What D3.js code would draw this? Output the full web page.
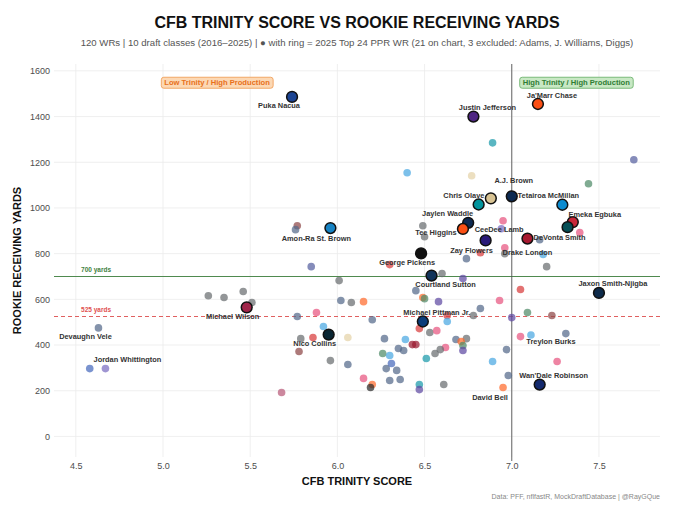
<!DOCTYPE html>
<html>
<head>
<meta charset="utf-8">
<script src="https://cdn.jsdelivr.net/npm/d3@7"></script>
<style>
  body { margin: 0; background: #fff; }
  svg { font-family: "Liberation Sans", Arial, sans-serif; display: block; }
</style>
</head>
<body>
<svg id="main" width="680" height="510"></svg>
<script>
// ---- data ----
// 2025 top-24 PPR WRs on the chart (drawn with a ring)
const ringNames = ['Puka Nacua', "Ja'Marr Chase", 'Justin Jefferson', 'A.J. Brown', 'Chris Olave',
    'Jaylen Waddle', 'Tetairoa McMillan', 'Emeka Egbuka', 'DeVonta Smith', 'CeeDee Lamb',
    'Tee Higgins', 'Zay Flowers', 'Drake London', 'Amon-Ra St. Brown', 'George Pickens',
    'Courtland Sutton', 'Jaxon Smith-Njigba', 'Michael Pittman Jr.', 'Michael Wilson',
    'Nico Collins', "Wan'Dale Robinson"];
const ringTeams = ['LAR', 'CIN', 'MIN', 'TEN', 'NO', 'MIA', 'CAR', 'TB', 'PHI', 'DAL',
    'CIN', 'BAL', 'ATL', 'DET', 'PIT', 'DEN', 'SEA', 'IND', 'ARI', 'HOU', 'NYG'];
const ringScore = [5.74, 7.15, 6.78, 7.00, 6.88, 6.81, 7.29, 7.35, 7.32, 6.75,
    6.72, 6.85, 7.09, 5.96, 6.48, 6.54, 7.50, 6.49, 5.48, 5.95, 7.16];
const ringYards = [1486, 1455, 1400, 1051, 1042, 1015, 1014, 938, 916, 935,
    908, 858, 866, 912, 801, 704, 628, 503, 565, 446, 227];

// other labelled WRs (no ring)
const notedNames = ['Devaughn Vele', 'Jordan Whittington', 'Treylon Burks', 'David Bell'];
const notedScore = [4.63, 4.67, 7.11, 6.95];
const notedYards = [475, 297, 444, 214];
const notedShade = ['slate', 'lavender', 'lightblue', 'orange'];

// everyone else
const otherScore = [6.40, 6.77, 6.89, 7.70, 7.44, 7.39, 7.16, 7.18, 7.20, 6.49,
    6.50, 6.95, 6.94, 6.96, 6.96, 6.82, 6.74, 6.30, 6.60, 6.72,
    6.45, 6.49, 6.50, 6.58, 6.93, 7.05, 6.82, 6.78, 6.63, 6.63,
    7.00, 7.09, 7.23, 7.31, 7.05, 6.47, 6.53, 6.57, 6.27, 6.39,
    6.68, 6.74, 6.71, 6.72, 6.72, 6.43, 6.45, 6.35, 6.38, 6.62,
    6.59, 6.56, 6.97, 6.51, 6.26, 6.30, 6.89, 6.31, 6.28, 6.34,
    6.30, 6.36, 6.98, 7.26, 6.47, 6.47, 6.61, 6.20, 6.20, 6.19,
    6.15, 5.85, 6.01, 5.46, 5.51, 6.02, 6.08, 6.15, 5.88, 5.77,
    5.92, 5.79, 5.86, 6.06, 5.78, 5.96, 6.06, 5.68, 5.26, 5.35,
    5.77, 5.76, 4.58];
const otherYards = [1154, 1141, 1285, 1211, 1106, 892, 861, 796, 743, 922,
    874, 944, 909, 826, 800, 804, 778, 752, 713, 691,
    638, 608, 603, 590, 595, 643, 560, 529, 529, 503,
    520, 542, 529, 450, 437, 472, 455, 463, 428, 424,
    424, 428, 415, 398, 376, 402, 402, 385, 376, 389,
    380, 363, 380, 341, 363, 354, 328, 319, 297, 289,
    245, 249, 267, 328, 227, 205, 227, 511, 227, 214,
    254, 743, 682, 634, 586, 595, 586, 590, 542, 525,
    481, 428, 433, 433, 372, 332, 315, 192, 616, 608,
    922, 905, 297];
const otherShade = ['lightblue', 'tan', 'teal', 'indigo', 'green', 'pink', 'slate', 'lightblue', 'gray', 'gray',
    'gray', 'pink', 'lavender', 'pink', 'gray', 'red', 'slate', 'red', 'gray', 'purple',
    'slate', 'orange', 'green', 'purple', 'pink', 'red', 'slate', 'gray', 'red', 'lightblue',
    'purple', 'green', 'brown', 'slate', 'pink', 'red', 'gray', 'pink', 'slate', 'lightblue',
    'slate', 'gray', 'orange', 'green', 'purple', 'maroon', 'maroon', 'slate', 'slate', 'pink',
    'gray', 'gray', 'slate', 'teal', 'green', 'lightblue', 'lightblue', 'blue', 'slate', 'slate',
    'slate', 'slate', 'slate', 'pink', 'teal', 'purple', 'gray', 'slate', 'orange', 'dark',
    'pink', 'indigo', 'gray', 'gray', 'gray', 'slate', 'gray', 'orange', 'pink', 'slate',
    'lightblue', 'gray', 'red', 'tan', 'brown', 'gray', 'slate', 'mauve', 'gray', 'gray',
    'brown', 'slate', 'blue'];

const xTicks = [4.5, 5.0, 5.5, 6.0, 6.5, 7.0, 7.5];
const yTicks = [0, 200, 400, 600, 800, 1000, 1200, 1400, 1600];
const trinityCut = 7.0;
const refYards = [700, 525];
const refLabels = ['700 yards', '525 yards'];
const quadrantLabels = ['Low Trinity / High Production', 'High Trinity / High Production'];
const quadrantScore = [5.31, 7.37];
const quadrantYards = [1548, 1548];

// ---- styles ----
const teamColor = {
    LAR: '#1b4493', CIN: '#fb4f14', MIN: '#4f2683', TEN: '#0c2a52', NO: '#d8c393',
    MIA: '#00939c', CAR: '#0a8bd0', TB: '#c8283a', PHI: '#064f56', DAL: '#0e2a52',
    BAL: '#2b1a78', ATL: '#a71930', DET: '#1783c4', PIT: '#111111', DEN: '#12345a',
    SEA: '#0d2a4a', IND: '#0b3c7a', ARI: '#a0254a', HOU: '#0a2633', NYG: '#142a6e'
};
const shadeColor = {
    slate: '#55698a', gray: '#6a6d70', lightblue: '#4aa8e2', pink: '#e8557f',
    red: '#d83c3c', orange: '#ff6b2c', green: '#4f8a68', purple: '#5e4aa2',
    teal: '#1a9aaa', tan: '#e4d3a8', maroon: '#9a1a30', brown: '#8e4646',
    lavender: '#7a6cc0', dark: '#2c2c2c', blue: '#4669bd', indigo: '#5660a0',
    mauve: '#b85a78'
};
// label offsets (px) from each point, as placed in the reference
const labelNudge = {
    'Puka Nacua': [-13, 9], "Ja'Marr Chase": [14, -8], 'Justin Jefferson': [14, -9],
    'A.J. Brown': [2, -16], 'Chris Olave': [-27, -3], 'Jaylen Waddle': [-31, 9],
    'Tetairoa McMillan': [-14, -9], 'Emeka Egbuka': [22, -8], 'DeVonta Smith': [-8, 10],
    'CeeDee Lamb': [31, 7], 'Tee Higgins': [-27, 4], 'Zay Flowers': [-14, 10],
    'Drake London': [0, 14], 'Amon-Ra St. Brown': [-14, 10], 'George Pickens': [-14, 9],
    'Courtland Sutton': [14, 9], 'Jaxon Smith-Njigba': [14, -9], 'Michael Pittman Jr.': [14, -9],
    'Michael Wilson': [-14, 9], 'Nico Collins': [-14, 9], "Wan'Dale Robinson": [14, -9],
    'Devaughn Vele': [-13, 9], 'Jordan Whittington': [22, -9], 'Treylon Burks': [20, 7],
    'David Bell': [-13, 10]
};

const width = 680;
const height = 510;
const panel = { left: 54, right: 660, top: 64, bottom: 457 };

const svg = d3.select('#main');

const xScale = d3.scaleLinear().domain([4.375, 7.85]).range([panel.left, panel.right]);
const yScale = d3.scaleLinear().domain([-90, 1630]).range([panel.bottom, panel.top]);

// gridlines
const grid = svg.append('g');
grid.selectAll('line.vx')
    .data(xTicks)
    .join('line')
    .attr('x1', d => xScale(d)).attr('x2', d => xScale(d))
    .attr('y1', panel.top).attr('y2', panel.bottom)
    .attr('stroke', '#ebebeb').attr('stroke-width', 0.8);
grid.selectAll('line.hy')
    .data(yTicks)
    .join('line')
    .attr('y1', d => yScale(d)).attr('y2', d => yScale(d))
    .attr('x1', panel.left).attr('x2', panel.right)
    .attr('stroke', '#ebebeb').attr('stroke-width', 0.8);

// axes (text only, theme_minimal look)
const xAxis = d3.axisBottom(xScale).tickValues(xTicks).tickFormat(d3.format('.1f')).tickSize(0).tickPadding(6);
const yAxis = d3.axisLeft(yScale).tickValues(yTicks).tickFormat(d3.format('d')).tickSize(0).tickPadding(4);
const gx = svg.append('g').attr('transform', `translate(0, ${panel.bottom})`).call(xAxis);
const gy = svg.append('g').attr('transform', `translate(${panel.left}, 0)`).call(yAxis);
[gx, gy].forEach(g => {
    g.select('.domain').remove();
    g.selectAll('text').attr('fill', '#4d4d4d').style('font-size', '9px')
        .style('font-family', '"Liberation Sans", Arial, sans-serif');
});

// reference lines
const refColor = ['#4f8a4f', '#e06060'];
svg.selectAll('line.ref')
    .data(refYards)
    .join('line')
    .attr('x1', panel.left).attr('x2', panel.right)
    .attr('y1', d => yScale(d)).attr('y2', d => yScale(d))
    .attr('stroke', (d, i) => refColor[i])
    .attr('stroke-width', 1.1)
    .attr('stroke-dasharray', (d, i) => i === 1 ? '4,3' : null);
svg.selectAll('text.ref')
    .data(refYards)
    .join('text')
    .attr('x', xScale(4.53))
    .attr('y', d => yScale(d + 30))
    .attr('dominant-baseline', 'central')
    .attr('fill', (d, i) => i === 0 ? '#3f7f3f' : '#e05050')
    .style('font-size', '6.5px').style('font-weight', 'bold')
    .text((d, i) => refLabels[i]);

svg.append('line')
    .attr('x1', xScale(trinityCut)).attr('x2', xScale(trinityCut))
    .attr('y1', panel.top).attr('y2', panel.bottom + 4)
    .attr('stroke', '#555').attr('stroke-width', 0.9);

// quadrant tags
const tagFill = ['#fcd8b4', '#c8e8c4'];
const tagStroke = ['#f0a05a', '#6fb46f'];
const tagText = ['#e8701a', '#2f7d34'];
quadrantLabels.forEach((lab, i) => {
    const g = svg.append('g')
        .attr('transform', `translate(${xScale(quadrantScore[i])}, ${yScale(quadrantYards[i])})`);
    const t = g.append('text')
        .attr('text-anchor', 'middle').attr('dominant-baseline', 'central')
        .attr('fill', tagText[i])
        .style('font-size', '7.6px').style('font-weight', 'bold')
        .text(lab);
    const bb = t.node().getBBox();
    g.insert('rect', 'text')
        .attr('x', bb.x - 3).attr('y', -5.5)
        .attr('width', bb.width + 6).attr('height', 11)
        .attr('rx', 2.5)
        .attr('fill', tagFill[i]).attr('stroke', tagStroke[i]).attr('stroke-width', 0.9);
});

// points
const others = otherScore.map((s, i) => ({ s, y: otherYards[i], shade: otherShade[i] }));
svg.append('g').selectAll('circle')
    .data(others)
    .join('circle')
    .attr('cx', d => xScale(d.s))
    .attr('cy', d => yScale(d.y))
    .attr('r', 3.8)
    .attr('fill', d => shadeColor[d.shade])
    .attr('opacity', 0.72);

const noted = notedNames.map((n, i) => ({ name: n, s: notedScore[i], y: notedYards[i], shade: notedShade[i] }));
svg.append('g').selectAll('circle')
    .data(noted)
    .join('circle')
    .attr('cx', d => xScale(d.s))
    .attr('cy', d => yScale(d.y))
    .attr('r', 3.8)
    .attr('fill', d => shadeColor[d.shade])
    .attr('opacity', 0.72);

const ringed = ringNames.map((n, i) => ({ name: n, team: ringTeams[i], s: ringScore[i], y: ringYards[i] }));
svg.append('g').selectAll('circle')
    .data(ringed)
    .join('circle')
    .attr('cx', d => xScale(d.s))
    .attr('cy', d => yScale(d.y))
    .attr('r', 5.4)
    .attr('fill', d => teamColor[d.team])
    .attr('stroke', '#111')
    .attr('stroke-width', 1.5);

// player labels
svg.append('g').selectAll('text')
    .data(ringed.concat(noted))
    .join('text')
    .attr('x', d => xScale(d.s) + labelNudge[d.name][0])
    .attr('y', d => yScale(d.y) + labelNudge[d.name][1])
    .attr('text-anchor', 'middle')
    .attr('dominant-baseline', 'central')
    .attr('fill', '#333')
    .style('font-size', '7.4px').style('font-weight', 'bold')
    .text(d => d.name);

// titles
const midX = (panel.left + panel.right) / 2;
svg.append('text')
    .attr('x', midX).attr('y', 22)
    .attr('text-anchor', 'middle').attr('dominant-baseline', 'central')
    .attr('fill', '#111')
    .style('font-size', '16px').style('font-weight', 'bold')
    .text('CFB TRINITY SCORE VS ROOKIE RECEIVING YARDS');
svg.append('text')
    .attr('x', midX).attr('y', 42)
    .attr('text-anchor', 'middle').attr('dominant-baseline', 'central')
    .attr('fill', '#555')
    .style('font-size', '9.6px')
    .text('120 WRs | 10 draft classes (2016\u20132025) | \u25CF with ring = 2025 Top 24 PPR WR (21 on chart, 3 excluded: Adams, J. Williams, Diggs)');

svg.append('text')
    .attr('x', midX).attr('y', 481)
    .attr('text-anchor', 'middle').attr('dominant-baseline', 'central')
    .attr('fill', '#111')
    .style('font-size', '11px').style('font-weight', 'bold')
    .text('CFB TRINITY SCORE');
svg.append('text')
    .attr('text-anchor', 'middle').attr('dominant-baseline', 'central')
    .attr('transform', `translate(17, ${(panel.top + panel.bottom) / 2}) rotate(-90)`)
    .attr('fill', '#111')
    .style('font-size', '11px').style('font-weight', 'bold')
    .text('ROOKIE RECEIVING YARDS');

svg.append('text')
    .attr('x', panel.right).attr('y', 496)
    .attr('text-anchor', 'end').attr('dominant-baseline', 'central')
    .attr('fill', '#888')
    .style('font-size', '7px')
    .text('Data: PFF, nflfastR, MockDraftDatabase | @RayGQue');
</script>
</body>
</html>
